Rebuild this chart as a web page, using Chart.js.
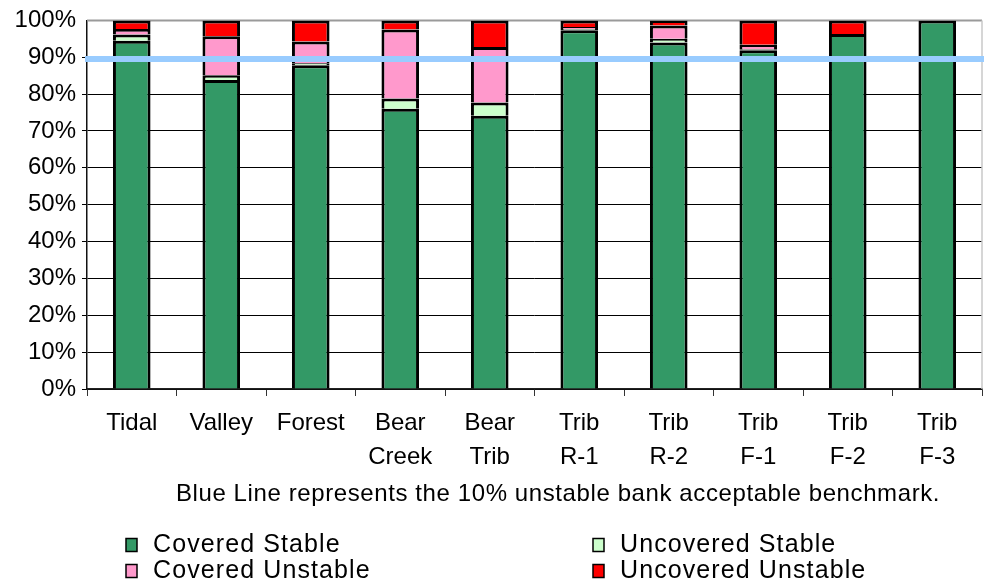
<!DOCTYPE html>
<html>
<head>
<meta charset="utf-8">
<title>Bank stability by reach</title>
<script src="https://cdn.jsdelivr.net/npm/chart.js@4/dist/chart.umd.min.js"></script>
<style>
  html, body { margin: 0; padding: 0; background: #ffffff; }
  #wrap { width: 984px; height: 584px; }
</style>
</head>
<body>
<div id="wrap"><canvas id="c" width="984" height="584"></canvas></div>
<script>
// Reaches (two-line labels where the name wraps)
const reaches = [
  ['Tidal'], ['Valley'], ['Forest'], ['Bear', 'Creek'], ['Bear', 'Trib'],
  ['Trib', 'R-1'], ['Trib', 'R-2'], ['Trib', 'F-1'], ['Trib', 'F-2'], ['Trib', 'F-3']
];

// Percent of bank length in each condition
const coveredStable     = [94.5, 83.8, 87.8, 76.0, 74.1, 97.3, 94.0, 91.9, 96.3, 100];
const uncoveredStable   = [1.7, 1.3, 0.6, 2.8, 3.6, 0.4, 1.0, 0.3, 0, 0];
const coveredUnstable   = [1.5, 10.6, 5.9, 18.7, 15.1, 0.5, 3.6, 1.2, 0, 0];
const uncoveredUnstable = [2.3, 4.3, 5.7, 2.5, 7.2, 1.8, 1.4, 6.6, 3.7, 0];

const seriesNames = ['Covered Stable', 'Uncovered Stable', 'Covered Unstable', 'Uncovered Unstable'];
const yTicks = [0, 10, 20, 30, 40, 50, 60, 70, 80, 90, 100];

// Acceptable benchmark (percent stable)
const benchmark = 89.5;
const caption = 'Blue Line represents the 10% unstable bank acceptable benchmark.';

const FONT = '"Liberation Sans", Arial, sans-serif';

// Gray frame on the top and right of the plot area
const framePlugin = {
  id: 'frame',
  beforeDatasetsDraw(chart) {
    const { ctx, chartArea: a } = chart;
    ctx.save();
    ctx.strokeStyle = '#9a9a9a';
    ctx.lineWidth = 2;
    ctx.beginPath();
    ctx.moveTo(a.left, a.top);
    ctx.lineTo(a.right, a.top);
    ctx.stroke();
    ctx.strokeStyle = '#c8c8c8';
    ctx.lineWidth = 1.5;
    ctx.beginPath();
    ctx.moveTo(a.right, a.top);
    ctx.lineTo(a.right, a.bottom);
    ctx.stroke();
    ctx.restore();
  }
};

// Horizontal benchmark line across the whole plot
const benchmarkPlugin = {
  id: 'benchmark',
  afterDatasetsDraw(chart) {
    const { ctx, chartArea: a } = chart;
    const y = chart.scales.y.getPixelForValue(benchmark);
    ctx.save();
    ctx.strokeStyle = '#99ccff';
    ctx.lineWidth = 6;
    ctx.beginPath();
    ctx.moveTo(a.left - 2, y);
    ctx.lineTo(chart.width, y);
    ctx.stroke();
    ctx.restore();
  }
};

// Caption line and two-column legend under the axis
const footerPlugin = {
  id: 'footer',
  afterDraw(chart) {
    const ctx = chart.ctx;
    ctx.save();
    ctx.fillStyle = '#000';
    ctx.textBaseline = 'middle';
    ctx.font = '24px ' + FONT;
    ctx.textAlign = 'center';
    if ('letterSpacing' in ctx) ctx.letterSpacing = '0.6px';
    ctx.fillText(caption, 558, 494);

    ctx.font = '25px ' + FONT;
    if ('letterSpacing' in ctx) ctx.letterSpacing = '1.1px';
    ctx.textAlign = 'left';
    const cols = [126, 593];
    const rows = [545, 571];
    chart.data.datasets.forEach((ds, i) => {
      const bx = cols[i % 2];
      const cy = rows[Math.floor(i / 2)];
      ctx.fillStyle = ds.backgroundColor;
      ctx.fillRect(bx, cy - 6.5, 11, 13);
      ctx.strokeStyle = '#000';
      ctx.lineWidth = 1.5;
      ctx.strokeRect(bx, cy - 6.5, 11, 13);
      ctx.fillStyle = '#000';
      ctx.fillText(ds.label, bx + 27, cy);
    });
    ctx.restore();
  }
};

const colors = ['#339966', '#ccffcc', '#ff99cc', '#ff0000'];
const values = [coveredStable, uncoveredStable, coveredUnstable, uncoveredUnstable];

new Chart(document.getElementById('c'), {
  type: 'bar',
  data: {
    labels: reaches,
    datasets: values.map((v, i) => ({
      label: seriesNames[i],
      data: v,
      backgroundColor: colors[i],
      borderColor: '#000000',
      borderWidth: 3,
      barPercentage: 0.42,
      categoryPercentage: 1.0
    }))
  },
  options: {
    responsive: false,
    animation: false,
    devicePixelRatio: 1,
    layout: { padding: { top: 19, right: 2, left: 0, bottom: 0 } },
    plugins: {
      legend: { display: false },
      title: { display: false },
      tooltip: { enabled: false }
    },
    scales: {
      x: {
        stacked: true,
        afterFit(scale) { scale.height = 195; },
        grid: {
          offset: true,
          drawOnChartArea: false,
          drawTicks: true,
          tickLength: 7,
          color: '#333333',
          lineWidth: 1
        },
        border: { display: true, color: '#222222', width: 1.5 },
        ticks: {
          color: '#000',
          padding: 11,
          maxRotation: 0,
          autoSkip: false,
          font: { family: FONT, size: 24, lineHeight: 1.4 }
        }
      },
      y: {
        stacked: true,
        min: 0,
        max: 100,
        afterFit(scale) { scale.width = 87; },
        afterBuildTicks(scale) { scale.ticks = yTicks.map(v => ({ value: v })); },
        grid: {
          drawTicks: true,
          tickLength: 5,
          color: ctx => (ctx.tick && ctx.tick.value === 100 ? 'rgba(0,0,0,0)' : '#000000'),
          lineWidth: 1
        },
        border: { display: true, color: '#111111', width: 1.5 },
        ticks: {
          color: '#000',
          padding: 6,
          font: { family: FONT, size: 24 },
          callback: v => v + '%'
        }
      }
    }
  },
  plugins: [framePlugin, benchmarkPlugin, footerPlugin]
});
</script>
</body>
</html>
